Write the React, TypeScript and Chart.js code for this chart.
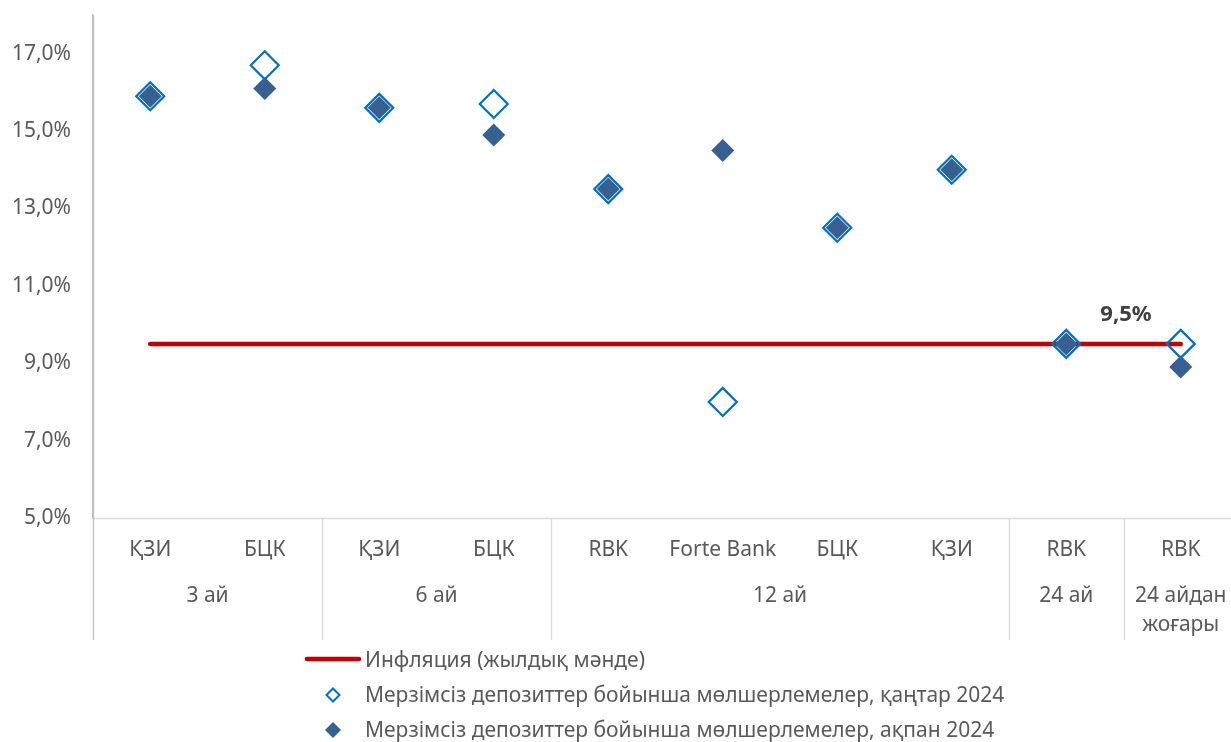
import React, { useEffect, useRef } from "react";
import { Chart, registerables } from "chart.js";

Chart.register(...registerables);

const categories = ["ҚЗИ", "БЦК", "ҚЗИ", "БЦК", "RBK", "Forte Bank", "БЦК", "ҚЗИ", "RBK", "RBK"];
const groups: { label: string[]; from: number; to: number }[] = [
  { label: ["3 ай"], from: 0, to: 1 },
  { label: ["6 ай"], from: 2, to: 3 },
  { label: ["12 ай"], from: 4, to: 7 },
  { label: ["24 ай"], from: 8, to: 8 },
  { label: ["24 айдан", "жоғары"], from: 9, to: 9 },
];
const inflation = [9.5, 9.5, 9.5, 9.5, 9.5, 9.5, 9.5, 9.5, 9.5, 9.5];
const ratesJan = [15.9, 16.7, 15.6, 15.7, 13.5, 8.0, 12.5, 14.0, 9.5, 9.5];
const ratesFeb = [15.9, 16.1, 15.6, 14.9, 13.5, 14.5, 12.5, 14.0, 9.5, 8.9];
const yTicks = [5, 7, 9, 11, 13, 15, 17];
const seriesNames = [
  "Инфляция (жылдық мәнде)",
  "Мерзімсіз депозиттер бойынша мөлшерлемелер, қаңтар 2024",
  "Мерзімсіз депозиттер бойынша мөлшерлемелер, ақпан 2024",
];
const inflationLabel = "9,5%";

const RED = "#C00000";
const BLUE = "#0070C0";
const NAVY = "#366092";
const TEXT = "#595959";
const FONT = "'Noto Sans', 'Open Sans', sans-serif";
const FS = 21;

export default function App() {
  const ref = useRef<HTMLCanvasElement | null>(null);

  useEffect(() => {
    document.body.style.margin = "0";
    const canvas = ref.current!;
    const overlay = {
      id: "overlay",
      afterDraw(chart: any) {
        const ctx = chart.ctx as CanvasRenderingContext2D;
        const area = chart.chartArea;
        const x = chart.scales.x;
        const step = x.getPixelForValue(1) - x.getPixelForValue(0);
        const bottom = area.bottom;
        const lowEnd = 640;
        ctx.save();
        // x axis line
        ctx.strokeStyle = "#D9D9D9";
        ctx.lineWidth = 1.3;
        ctx.beginPath();
        ctx.moveTo(area.left, bottom + 0.5);
        ctx.lineTo(area.right, bottom + 0.5);
        ctx.stroke();
        // group separators
        groups.forEach((g) => {
          const xb = Math.round(x.getPixelForValue(g.to) + step / 2) + 0.5;
          ctx.beginPath();
          ctx.moveTo(xb, bottom);
          ctx.lineTo(xb, lowEnd);
          ctx.stroke();
        });
        // y axis extension
        ctx.strokeStyle = "#BFBFBF";
        ctx.lineWidth = 1.3;
        ctx.beginPath();
        ctx.moveTo(area.left + 0.5, area.top);
        ctx.lineTo(area.left + 0.5, lowEnd);
        ctx.stroke();
        // category labels
        ctx.fillStyle = TEXT;
        ctx.font = `${FS}px ${FONT}`;
        ctx.textAlign = "center";
        ctx.textBaseline = "alphabetic";
        categories.forEach((c, i) => {
          ctx.fillText(c, x.getPixelForValue(i), 556);
        });
        groups.forEach((g) => {
          const cx = (x.getPixelForValue(g.from) + x.getPixelForValue(g.to)) / 2;
          g.label.forEach((l, k) => {
            ctx.fillText(l, cx, 602 + k * 29);
          });
        });
        // inflation value label
        ctx.fillStyle = "#404040";
        ctx.font = `bold 22px ${FONT}`;
        ctx.fillText(inflationLabel, 1126, 321);
        // legend
        ctx.textAlign = "left";
        ctx.fillStyle = TEXT;
        ctx.font = `${FS}px ${FONT}`;
        const lx = 365;
        const rows = [659, 695, 730];
        ctx.strokeStyle = RED;
        ctx.lineWidth = 4.5;
        ctx.lineCap = "round";
        ctx.beginPath();
        ctx.moveTo(307, rows[0]);
        ctx.lineTo(359, rows[0]);
        ctx.stroke();
        const diamond = (cx: number, cy: number, r: number) => {
          ctx.beginPath();
          ctx.moveTo(cx - r, cy);
          ctx.lineTo(cx, cy - r);
          ctx.lineTo(cx + r, cy);
          ctx.lineTo(cx, cy + r);
          ctx.closePath();
        };
        diamond(333, rows[1], 6.5);
        ctx.strokeStyle = BLUE;
        ctx.lineWidth = 2;
        ctx.fillStyle = "#FFFFFF";
        ctx.fill();
        ctx.stroke();
        diamond(333, rows[2], 8);
        ctx.fillStyle = NAVY;
        ctx.fill();
        ctx.fillStyle = TEXT;
        const bases = [667, 702, 737];
        seriesNames.forEach((s, i) => ctx.fillText(s, lx, bases[i]));
        ctx.restore();
      },
    };

    const chart = new Chart(canvas, {
      type: "line",
      data: {
        labels: categories,
        datasets: [
          {
            label: seriesNames[0],
            data: inflation,
            borderColor: RED,
            backgroundColor: RED,
            borderWidth: 4.5,
            borderCapStyle: "round",
            pointRadius: 0,
            order: 3,
          },
          {
            label: seriesNames[1],
            data: ratesJan,
            showLine: false,
            pointStyle: "rectRot",
            pointRadius: 14,
            pointBorderWidth: 2.2,
            pointBorderColor: BLUE,
            pointBackgroundColor: "rgba(255,255,255,0)",
            order: 1,
          },
          {
            label: seriesNames[2],
            data: ratesFeb,
            showLine: false,
            pointStyle: "rectRot",
            pointRadius: 11.5,
            pointBorderWidth: 0,
            pointBackgroundColor: NAVY,
            pointBorderColor: NAVY,
            order: 2,
          },
        ],
      } as any,
      options: {
        animation: false,
        responsive: false,
        devicePixelRatio: 1,
        layout: { autoPadding: false, padding: { left: 0, top: 15, right: 2, bottom: 224 } },
        plugins: { legend: { display: false }, tooltip: { enabled: false } },
        scales: {
          x: {
            type: "category",
            offset: true,
            display: false,
          },
          y: {
            min: 5,
            max: 18,
            grid: { display: false, drawTicks: false },
            border: { display: true, color: "#BFBFBF", width: 1.3 },
            afterBuildTicks: (s: any) => {
              s.ticks = yTicks.map((v) => ({ value: v }));
            },
            afterFit: (s: any) => {
              s.width = 93;
              s.paddingTop = 0;
              s.paddingBottom = 0;
            },
            ticks: {
              color: TEXT,
              padding: 22,
              font: { family: FONT, size: FS },
              callback: (v: any) => Number(v).toFixed(1).replace(".", ",") + "%",
            },
          },
        },
      } as any,
      plugins: [overlay],
    });
    return () => chart.destroy();
  }, []);

  return (
    <div style={{ position: "fixed", left: 0, top: 0, width: 1231, height: 742, overflow: "hidden", background: "#fff" }}>
      <canvas ref={ref} width={1240} height={742} style={{ display: "block", width: 1240, height: 742 }} />
    </div>
  );
}
